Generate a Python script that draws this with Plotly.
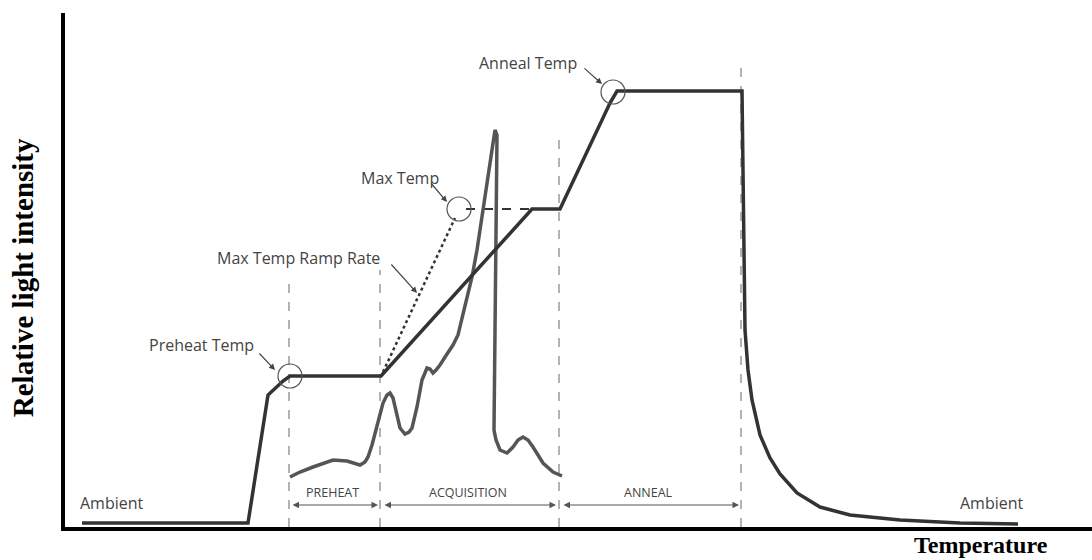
import plotly.graph_objects as go

# ---- data (x: temperature scale units, y: relative light intensity units) ----
profile_x = [82, 248, 268, 283, 290, 381, 532, 560, 610, 617, 742, 743, 745, 748, 752, 760, 770, 780, 797, 820, 850, 900, 960, 1018]
profile_y = [4, 4, 132, 146, 151, 151, 318, 318, 424, 436, 436, 327, 197, 157, 127, 92, 69, 53, 34, 20, 12, 7, 4, 3]

glow_x = [290, 300, 313, 333, 347, 360, 365, 368, 372, 377, 383, 387, 390, 393, 395, 400, 405, 409, 412, 417,
          422, 427, 430, 433, 436, 440, 447, 453, 458, 463, 467, 472, 477, 483, 488, 492, 495, 497, 496, 495,
          494, 494, 496, 500, 507, 513, 518, 523, 528, 533, 543, 553, 562]
glow_y = [50, 55, 60, 67, 66, 62, 65, 70, 82, 100, 124, 132, 134, 129, 120, 99, 93, 95, 99, 120,
          147, 159, 158, 154, 157, 162, 173, 182, 192, 212, 229, 250, 277, 317, 349, 377, 397, 392, 277, 177,
          107, 97, 87, 77, 74, 80, 87, 90, 87, 80, 64, 55, 51]

phase_x = [289, 380, 559, 741]          # phase boundaries
phase_top = [244, 257, 387, 467]        # top of dashed boundary lines

ramp_x = [383, 455]                     # max temp ramp rate (dotted)
ramp_y = [155, 309]
maxtemp_x = [466, 532]                  # max temp level (dashed)
maxtemp_y = [318, 318]

circle_x = [290, 459, 613]              # preheat temp, max temp, anneal temp
circle_y = [151, 318, 435]

phase_names = ["PREHEAT", "ACQUISITION", "ANNEAL"]
phase_start = [291, 383, 562]
phase_end = [378, 556, 739]
phase_label_x = [332, 468, 648]

callouts = ["Preheat Temp", "Max Temp Ramp Rate", "Max Temp", "Anneal Temp"]
callout_x = [201, 298, 400, 528]
callout_y = [182, 269, 349, 464]
arrow_tail_x = [258, 390, 430, 583]
arrow_tail_y = [175, 264, 345, 460]
arrow_head_x = [275, 417, 447, 602]
arrow_head_y = [157, 234, 325, 443]

ambient_x = [112, 992]
ambient_y = [24, 24]

fig = go.Figure()

# dashed phase boundaries
for px, pt in zip(phase_x, phase_top):
    fig.add_trace(go.Scatter(x=[px, px], y=[0, pt], mode="lines",
                             line=dict(color="#8a8a8a", width=1.3, dash="dash"),
                             hoverinfo="skip", showlegend=False))

# max temp ramp rate (dotted) and max temp level (dashed)
fig.add_trace(go.Scatter(x=ramp_x, y=ramp_y, mode="lines",
                         line=dict(color="#333", width=2.5, dash="dot"), showlegend=False))
fig.add_trace(go.Scatter(x=maxtemp_x, y=maxtemp_y, mode="lines",
                         line=dict(color="#333", width=2, dash="dash"), showlegend=False))

# glow curve
fig.add_trace(go.Scatter(x=glow_x, y=glow_y, mode="lines",
                         line=dict(color="#555", width=3.5), showlegend=False))
# temperature profile
fig.add_trace(go.Scatter(x=profile_x, y=profile_y, mode="lines",
                         line=dict(color="#333", width=3.5), showlegend=False))

# circles
fig.add_trace(go.Scatter(x=circle_x, y=circle_y, mode="markers",
                         marker=dict(symbol="circle-open", size=24, color="#555", line=dict(width=1.2)),
                         showlegend=False))

annotations = []
font_small = dict(family="Open Sans", size=16, color="#444")

for name, s, e, lx in zip(phase_names, phase_start, phase_end, phase_label_x):
    annotations.append(dict(x=e, y=22, ax=s, ay=22, xref="x", yref="y", axref="x", ayref="y",
                            text="", showarrow=True, arrowhead=2, startarrowhead=2, arrowside="end+start",
                            arrowsize=1.3, startarrowsize=1.3, arrowwidth=1, arrowcolor="#555"))
    annotations.append(dict(x=lx, y=35, xref="x", yref="y", text=name, showarrow=False,
                            font=dict(family="Open Sans", size=12.5, color="#444")))

for t, cx, cy, tx, ty, hx, hy in zip(callouts, callout_x, callout_y, arrow_tail_x, arrow_tail_y,
                                     arrow_head_x, arrow_head_y):
    annotations.append(dict(x=cx, y=cy, xref="x", yref="y", text=t, showarrow=False, font=font_small))
    annotations.append(dict(x=hx, y=hy, ax=tx, ay=ty, xref="x", yref="y", axref="x", ayref="y",
                            text="", showarrow=True, arrowhead=2, arrowsize=1, arrowwidth=1.2,
                            arrowcolor="#444"))

for ax_, ay_ in zip(ambient_x, ambient_y):
    annotations.append(dict(x=ax_, y=ay_, xref="x", yref="y", text="Ambient", showarrow=False,
                            font=font_small))

annotations.append(dict(x=-0.0409, y=0.486, xref="paper", yref="paper", xanchor="center", yanchor="middle",
                        text="<b>Relative light intensity</b>", textangle=-90, showarrow=False,
                        font=dict(family="Liberation Serif", size=29, color="black")))
annotations.append(dict(x=981, y=-0.035, xref="x", yref="paper", xanchor="center", yanchor="middle",
                        text="<b>Temperature</b>", showarrow=False,
                        font=dict(family="Liberation Serif", size=24, color="black")))

fig.update_layout(
    width=1092, height=560,
    margin=dict(l=65, r=0, t=13, b=33),
    paper_bgcolor="white", plot_bgcolor="white",
    annotations=annotations,
    xaxis=dict(range=[65, 1092], showgrid=False, zeroline=False, showticklabels=False, ticks="",
               showline=True, linecolor="black", linewidth=3.5),
    yaxis=dict(range=[0, 514], showgrid=False, zeroline=False, showticklabels=False, ticks="",
               showline=True, linecolor="black", linewidth=3.5),
)

fig.write_html("out.html", config={"displayModeBar": False},
               post_script="document.body.style.margin='0';")
